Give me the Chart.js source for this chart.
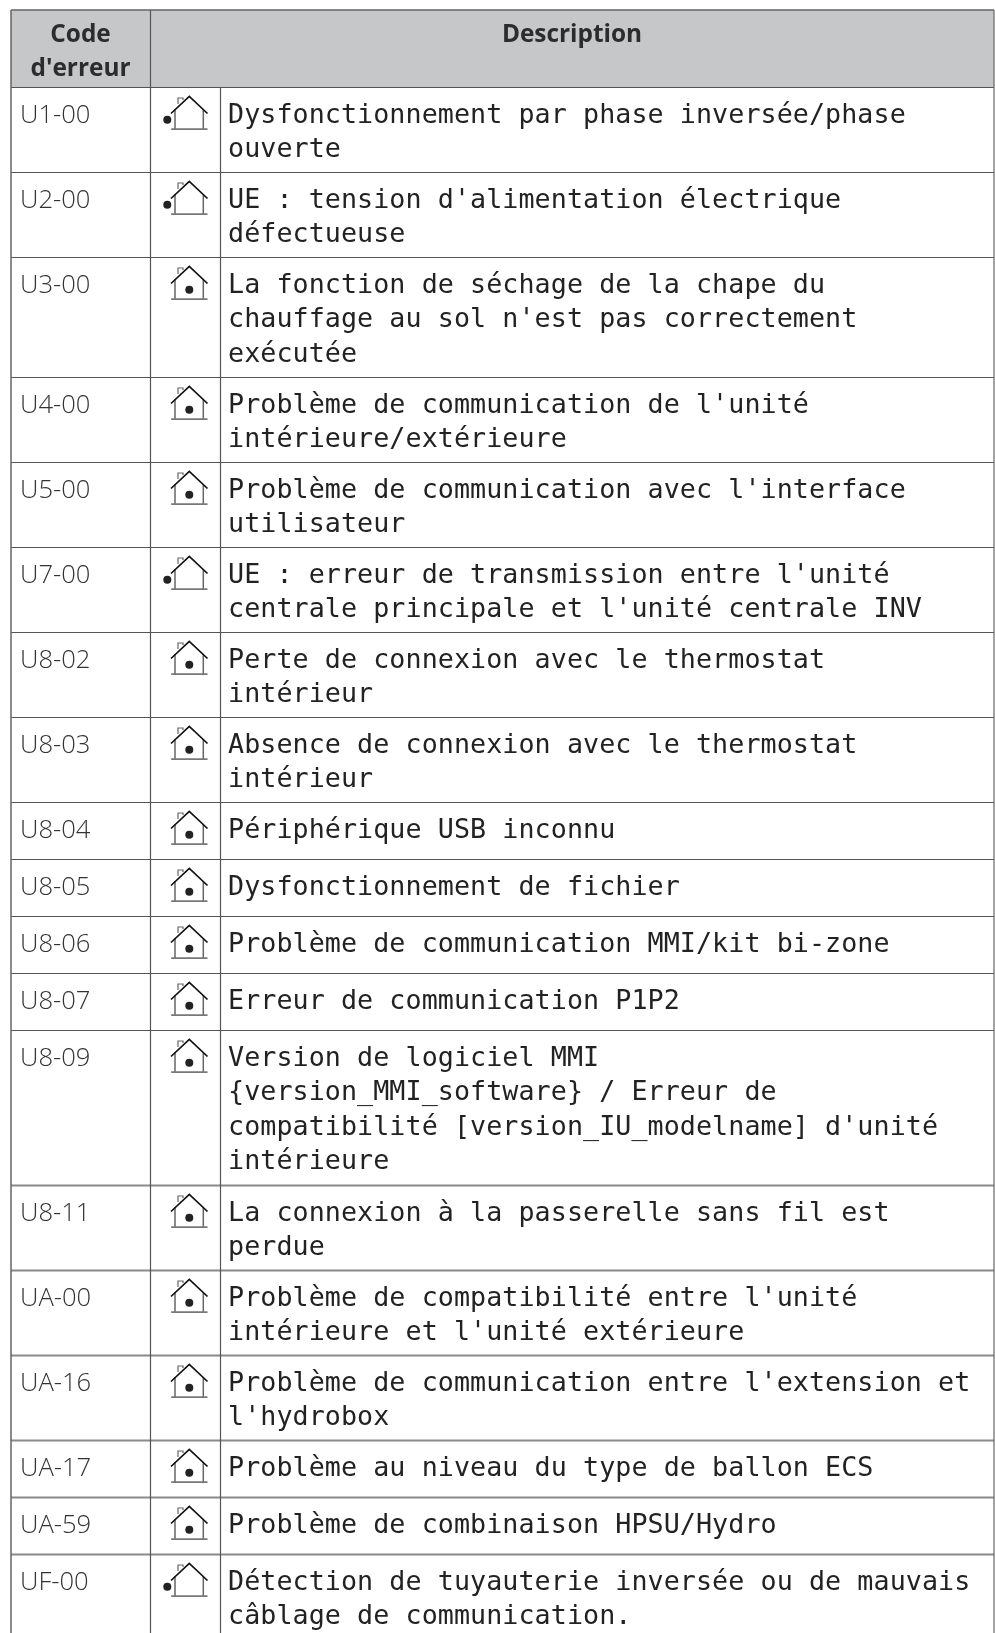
<!DOCTYPE html>
<html>
<head>
<meta charset="utf-8">
<title>Codes d'erreur</title>
<script src="https://cdn.jsdelivr.net/npm/chart.js@4/dist/chart.umd.min.js"></script>
<style>
  html, body { margin: 0; padding: 0; background: #fff; }
  canvas { display: block; }
</style>
</head>
<body>
<canvas id="table" width="995" height="1633"></canvas>
<script>
const headerCode = ['Code', "d'erreur"];
const headerDescription = 'Description';

const codes = [
  'U1-00', 'U2-00', 'U3-00', 'U4-00', 'U5-00', 'U7-00', 'U8-02', 'U8-03', 'U8-04', 'U8-05',
  'U8-06', 'U8-07', 'U8-09', 'U8-11', 'UA-00', 'UA-16', 'UA-17', 'UA-59', 'UF-00'
];

// o = point hors de la maison (extérieur), i = point dans la maison (intérieur)
const iconKinds = ['o', 'o', 'i', 'i', 'i', 'o', 'i', 'i', 'i', 'i', 'i', 'i', 'i', 'i', 'i', 'i', 'i', 'i', 'o'];

const descriptions = [
  ['Dysfonctionnement par phase inversée/phase', 'ouverte'],
  ["UE : tension d'alimentation électrique", 'défectueuse'],
  ['La fonction de séchage de la chape du', "chauffage au sol n'est pas correctement", 'exécutée'],
  ["Problème de communication de l'unité", 'intérieure/extérieure'],
  ["Problème de communication avec l'interface", 'utilisateur'],
  ["UE : erreur de transmission entre l'unité", "centrale principale et l'unité centrale INV"],
  ['Perte de connexion avec le thermostat', 'intérieur'],
  ['Absence de connexion avec le thermostat', 'intérieur'],
  ['Périphérique USB inconnu'],
  ['Dysfonctionnement de fichier'],
  ['Problème de communication MMI/kit bi-zone'],
  ['Erreur de communication P1P2'],
  ['Version de logiciel MMI', '{version_MMI_software} / Erreur de', 'compatibilité [version_IU_modelname] d\'unité', 'intérieure'],
  ['La connexion à la passerelle sans fil est', 'perdue'],
  ["Problème de compatibilité entre l'unité", "intérieure et l'unité extérieure"],
  ["Problème de communication entre l'extension et", "l'hydrobox"],
  ['Problème au niveau du type de ballon ECS'],
  ['Problème de combinaison HPSU/Hydro'],
  ['Détection de tuyauterie inversée ou de mauvais', 'câblage de communication.']
];

// mise en page du tableau, en pixels de l'image
const W = 995, H = 1633;
const tableTop = 10, headerBottom = 87.5;
const colLeft = 11, colIcon = 150.5, colText = 220.5, colRight = 994;

function rowHeight(lines) {
  return lines === 1 ? 57 : 15 + 35 * lines;
}

// bords haut de chaque ligne, cumulés depuis l'en-tête
const rowEdges = [headerBottom];
descriptions.forEach(d => rowEdges.push(rowEdges[rowEdges.length - 1] + rowHeight(d.length)));

function rule(x1, y1, x2, y2, color, width) {
  return {
    type: 'scatter', showLine: true, pointRadius: 0, borderColor: color, borderWidth: width,
    data: [{ x: x1, y: y1 }, { x: x2, y: y2 }], order: 1
  };
}

function houseIcon(kind) {
  const c = document.createElement('canvas');
  c.width = 60; c.height = 44;
  const g = c.getContext('2d');
  // murs
  g.strokeStyle = '#666';
  g.lineWidth = 1.5;
  g.beginPath();
  g.moveTo(23, 19); g.lineTo(23, 39);
  g.moveTo(51.3, 19); g.lineTo(51.3, 39);
  g.stroke();
  // sol
  g.lineWidth = 1.8;
  g.strokeStyle = '#777';
  g.beginPath();
  g.moveTo(19.2, 39.2); g.lineTo(55.5, 39.2);
  g.stroke();
  // cheminée
  g.lineWidth = 1.2;
  g.strokeStyle = '#666';
  g.beginPath();
  g.moveTo(26, 14); g.lineTo(26, 8); g.lineTo(31, 8); g.lineTo(31, 10);
  g.stroke();
  // toit
  g.strokeStyle = '#111';
  g.lineWidth = 1.7;
  g.beginPath();
  g.moveTo(19, 23.5); g.lineTo(37.3, 6.5); g.lineTo(55.5, 23.5);
  g.stroke();
  // point
  g.fillStyle = '#222';
  g.beginPath();
  g.arc(kind === 'o' ? 15.3 : 37.3, 29.8, 4, 0, Math.PI * 2);
  g.fill();
  return c;
}

const outdoorImg = houseIcon('o');
const indoorImg = houseIcon('i');
const iconX = 182, iconOffset = 24.5;

function iconPoints(kind) {
  const pts = [];
  iconKinds.forEach((k, i) => {
    if (k === kind) pts.push({ x: iconX, y: rowEdges[i] + iconOffset });
  });
  return pts;
}

const datasets = [
  // fond de l'en-tête
  {
    type: 'line', label: 'header', pointRadius: 0, borderWidth: 0,
    backgroundColor: '#c6c7c9', fill: { target: { value: headerBottom } },
    data: [{ x: colLeft, y: tableTop }, { x: colRight, y: tableTop }], order: 5
  },
  { type: 'scatter', label: 'outdoor', pointStyle: outdoorImg, pointRadius: 10, data: iconPoints('o'), order: 0 },
  { type: 'scatter', label: 'indoor', pointStyle: indoorImg, pointRadius: 10, data: iconPoints('i'), order: 0 },
  rule(colLeft, tableTop, colRight, tableTop, '#666', 1.5),
  rule(colLeft, tableTop, colLeft, H, '#666', 1.5),
  rule(colIcon, tableTop, colIcon, H, '#555', 1.2),
  rule(colText, headerBottom, colText, H, '#555', 1.2),
  rule(colRight, tableTop, colRight, H, '#666', 1.2)
];
rowEdges.forEach((e, i) => {
  const soft = i >= 13; // les filets du bas sont plus gris dans l'original
  datasets.push(rule(colLeft, e, colRight, e, soft ? '#8a8a8a' : '#555', soft ? 1.8 : 1.2));
});

const textPlugin = {
  id: 'tableText',
  afterDatasetsDraw(chart) {
    const ctx = chart.ctx;
    const x = chart.scales.x, y = chart.scales.y;
    ctx.save();
    ctx.textBaseline = 'alphabetic';

    ctx.fillStyle = '#2c2c2c';
    ctx.font = 'bold 24.4px "Open Sans"';
    ctx.textAlign = 'center';
    ctx.fillText(headerCode[0], x.getPixelForValue(80.5), y.getPixelForValue(42));
    ctx.fillText(headerCode[1], x.getPixelForValue(80.5), y.getPixelForValue(76));
    ctx.fillText(headerDescription, x.getPixelForValue(572), y.getPixelForValue(42));

    ctx.textAlign = 'left';
    codes.forEach((code, i) => {
      ctx.fillStyle = '#333';
      ctx.font = '300 25.6px "Open Sans"';
      ctx.letterSpacing = '0px';
      ctx.fillText(code, x.getPixelForValue(20), y.getPixelForValue(rowEdges[i] + 35));

      ctx.fillStyle = '#222';
      ctx.font = '26.7px "DejaVu Sans Mono"';
      ctx.letterSpacing = '0.07px';
      descriptions[i].forEach((line, j) => {
        ctx.fillText(line, x.getPixelForValue(228), y.getPixelForValue(rowEdges[i] + 35.5 + j * 34.4));
      });
    });
    ctx.restore();
  }
};

new Chart(document.getElementById('table'), {
  type: 'scatter',
  data: { datasets: datasets },
  plugins: [textPlugin],
  options: {
    responsive: false,
    animation: false,
    events: [],
    layout: { padding: 0, autoPadding: false },
    plugins: { legend: { display: false }, tooltip: { enabled: false } },
    scales: {
      x: { type: 'linear', display: false, min: 0, max: W },
      y: { type: 'linear', display: false, min: 0, max: H, reverse: true }
    }
  }
});
</script>
</body>
</html>
